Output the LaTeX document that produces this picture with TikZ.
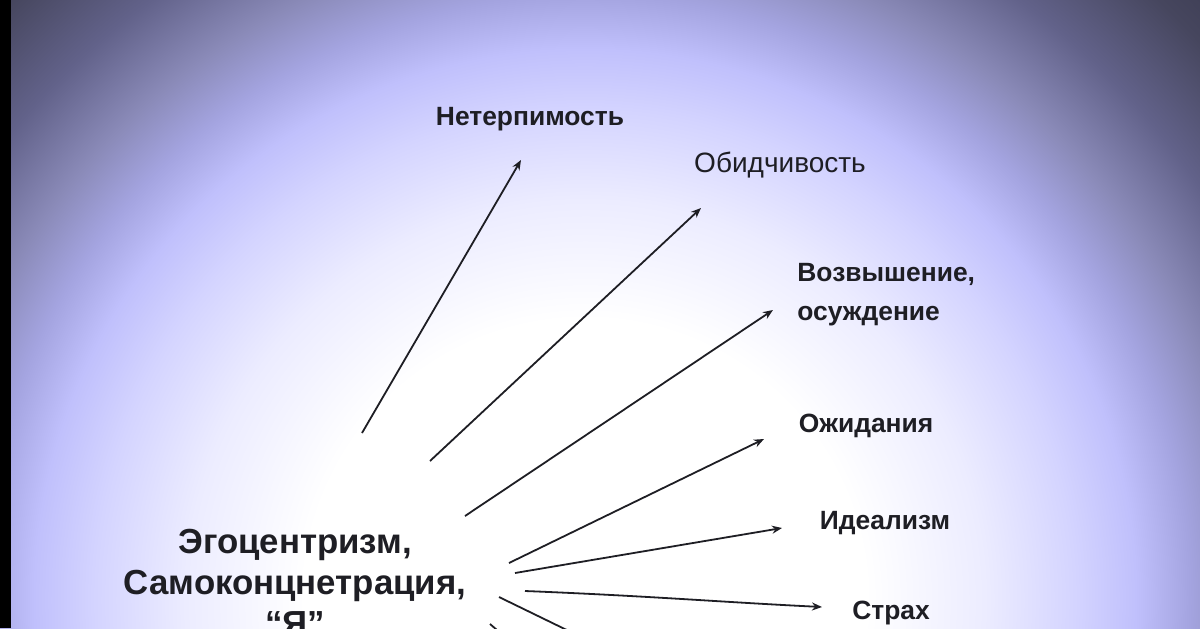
\documentclass[tikz,border=0pt]{standalone}
\usepackage{fontspec}
\setmainfont{Liberation Sans}
\usetikzlibrary{arrows.meta}
\definecolor{bgA}{HTML}{ECECFF}
\definecolor{bgB}{HTML}{D4D4FF}
\definecolor{bgC}{HTML}{C0C0FC}
\definecolor{bgD}{HTML}{A4A4E0}
\definecolor{bgE}{HTML}{8A8AB8}
\definecolor{bgF}{HTML}{62628A}
\definecolor{bgG}{HTML}{46465E}
\definecolor{bgH}{HTML}{3A3A50}
\definecolor{ink}{HTML}{1E1E24}
\pgfdeclareradialshading{bgglow}{\pgfpoint{0bp}{0bp}}{%
  color(0bp)=(white); color(7.8bp)=(white); color(11.1bp)=(bgA);
  color(13.6bp)=(bgB); color(15.3bp)=(bgC); color(16.8bp)=(bgD);
  color(18.4bp)=(bgE); color(20.56bp)=(bgF); color(23.06bp)=(bgG);
  color(25bp)=(bgH); color(50bp)=(bgH)}
\tikzset{
  lbl/.style={font=\fontsize{13.2}{19.5}\selectfont\bfseries, text=ink, inner sep=0pt},
  lblreg/.style={font=\fontsize{14}{19.5}\selectfont, text=ink, inner sep=0pt},
  mainlbl/.style={font=\fontsize{17.4}{20.5}\selectfont\bfseries, text=ink, align=center, inner sep=0pt},
  ray/.style={draw=ink, line width=0.9pt, -{Stealth[length=5pt,width=4pt]}},
  stub/.style={draw=ink, line width=0.9pt}
}
\begin{document}
\begin{tikzpicture}[x=0.5pt,y=-0.5pt]
\useasboundingbox (0,0) rectangle (1200,628);
\begin{scope}
\clip (0,0) rectangle (1200,628);
\shade[shading=bgglow] (585,600) circle[radius=450pt];
\fill[black] (0,0) rectangle (11,628);

\node[mainlbl] (ego) at (295,582) {Эгоцентризм,\\Самоконцнетрация,\\“Я”};

\node[lbl] (neterp) at (530,119) {Нетерпимость};
\node[lblreg] (obid) at (780,165) {Обидчивость};
\node[lbl, align=left, anchor=west] (vozv) at (797,295) {Возвышение,\\осуждение};
\node[lbl] (ozhid) at (866,426) {Ожидания};
\node[lbl] (ideal) at (885,523) {Идеализм};
\node[lbl] (strah) at (891,613) {Страх};

\coordinate (s1) at (362,433); \coordinate (e1) at (521,160);
\coordinate (s2) at (430,461); \coordinate (e2) at (701,208);
\coordinate (s3) at (465,516); \coordinate (e3) at (773,310);
\coordinate (s4) at (509,563); \coordinate (e4) at (764,439);
\coordinate (s5) at (515,573); \coordinate (e5) at (782,528);
\coordinate (s6) at (525,591); \coordinate (e6) at (822,607);
\coordinate (s7) at (499,597); \coordinate (e7) at (575,634);
\coordinate (s8) at (490,624); \coordinate (e8) at (497,630);

\draw[ray] (s1) -- (e1);
\draw[ray] (s2) -- (e2);
\draw[ray] (s3) -- (e3);
\draw[ray] (s4) -- (e4);
\draw[ray] (s5) -- (e5);
\draw[ray] (s6) .. controls (650,596) and (720,602) .. (e6);
\draw[stub] (s7) -- (e7);
\draw[stub] (s8) -- (e8);
\end{scope}
\end{tikzpicture}
\end{document}
